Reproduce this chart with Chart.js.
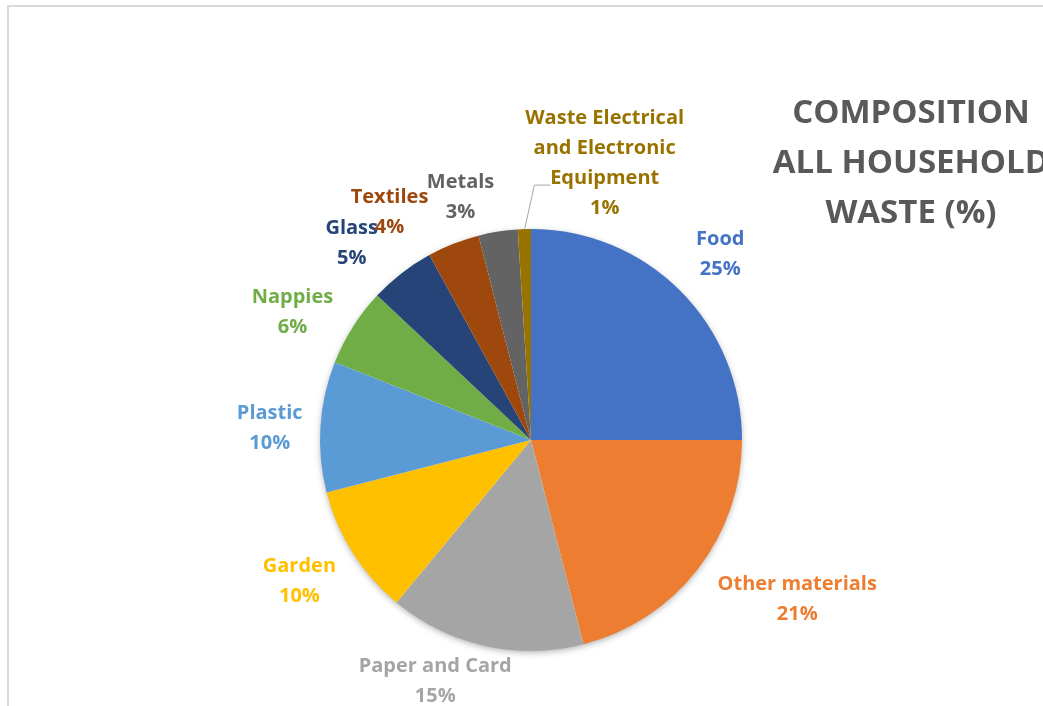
<!DOCTYPE html>
<html>
<head>
<meta charset="utf-8">
<script src="https://cdn.jsdelivr.net/npm/chart.js@4"></script>
<style>
html,body{margin:0;padding:0;background:#fff;}
canvas{display:block;}
</style>
</head>
<body>
<canvas id="c" width="1043" height="706"></canvas>
<script>
// ---- data ----
const categories = ['Food','Other materials','Paper and Card','Garden','Plastic','Nappies','Glass','Textiles','Metals','Waste Electrical and Electronic Equipment'];
const values = [25, 21, 15, 10, 10, 6, 5, 4, 3, 1];
const colors = ['#4472C4','#ED7D31','#A5A5A5','#FFC000','#5B9BD5','#70AD47','#264478','#9E480E','#636363','#997300'];
const titleLines = ['COMPOSITION','ALL HOUSEHOLD','WASTE (%)'];

// ---- label placement (style, not data) ----
const FONT = '"Open Sans", Lato, sans-serif';
const labelRadius = 1.255;
const labelNudge = [[2,2],[57,-3],[-38,-17],[-8,-1],[3,5],[-15,14],[-17,13],[-44,19],[-29,19],[82,-12]];
const labelWrap = 178;

const total = values.reduce((a,b)=>a+b,0);

function wrap(ctx, text, max){
  const words = text.split(' ');
  const lines = [];
  let cur = '';
  for (const w of words){
    const t = cur ? cur + ' ' + w : w;
    if (ctx.measureText(t).width > max && cur){ lines.push(cur); cur = w; }
    else cur = t;
  }
  if (cur) lines.push(cur);
  return lines;
}

const framePlugin = {
  id: 'frame',
  beforeDraw(chart){
    const ctx = chart.ctx;
    ctx.save();
    ctx.fillStyle = '#fff';
    ctx.fillRect(0,0,chart.width,chart.height);
    ctx.strokeStyle = '#D9D9D9';
    ctx.lineWidth = 2;
    ctx.beginPath();
    ctx.moveTo(8, chart.height);
    ctx.lineTo(8, 6);
    ctx.lineTo(chart.width, 6);
    ctx.stroke();
    ctx.restore();
  },
  beforeDatasetsDraw(chart){
    const arc = chart.getDatasetMeta(0).data[0];
    const ctx = chart.ctx;
    ctx.save();
    ctx.shadowColor = 'rgba(0,0,0,0.35)';
    ctx.shadowBlur = 7;
    ctx.shadowOffsetY = 2;
    ctx.fillStyle = '#fff';
    ctx.beginPath();
    ctx.arc(arc.x, arc.y, arc.outerRadius - 1, 0, Math.PI*2);
    ctx.fill();
    ctx.restore();
  },
  afterDatasetsDraw(chart){
    const ctx = chart.ctx;
    const meta = chart.getDatasetMeta(0);
    ctx.save();
    ctx.font = 'bold 20px ' + FONT;
    ctx.textAlign = 'center';
    ctx.textBaseline = 'middle';
    const lh = 30;
    meta.data.forEach((a, i) => {
      const mid = (a.startAngle + a.endAngle)/2;
      const r = a.outerRadius * labelRadius;
      const cx = a.x + Math.cos(mid)*r + labelNudge[i][0];
      const cy = a.y + Math.sin(mid)*r + labelNudge[i][1];
      const lines = wrap(ctx, chart.data.labels[i], labelWrap);
      lines.push(Math.round(values[i]/total*100) + '%');
      const y0 = cy - (lines.length-1)*lh/2;
      ctx.fillStyle = colors[i];
      lines.forEach((ln, k) => ctx.fillText(ln, cx, y0 + k*lh));
      if (i === values.length - 1){
        // leader line from slice edge to label
        const ex = a.x + Math.cos(mid)*a.outerRadius;
        const ey = a.y + Math.sin(mid)*a.outerRadius;
        ctx.strokeStyle = '#A6A6A6';
        ctx.lineWidth = 1;
        ctx.beginPath();
        ctx.moveTo(ex + 0.5, ey - 1);
        ctx.lineTo(ex + 10, ey - 44);
        ctx.lineTo(ex + 26, ey - 44);
        ctx.stroke();
      }
    });
    ctx.restore();
  },
  afterDraw(chart){
    const ctx = chart.ctx;
    ctx.save();
    ctx.font = 'bold 33px ' + FONT;
    ctx.fillStyle = '#595959';
    ctx.textAlign = 'center';
    ctx.textBaseline = 'middle';
    titleLines.forEach((t, k) => ctx.fillText(t, 911, 114 + k*50));
    ctx.restore();
  }
};

new Chart(document.getElementById('c'), {
  type: 'pie',
  data: {
    labels: categories,
    datasets: [{
      data: values,
      backgroundColor: colors,
      borderWidth: 0
    }]
  },
  options: {
    responsive: false,
    devicePixelRatio: 1,
    animation: false,
    layout: { padding: { left: 320, right: 301, top: 229, bottom: 55 } },
    plugins: {
      legend: { display: false },
      tooltip: { enabled: false },
      title: { display: false }
    }
  },
  plugins: [framePlugin]
});
</script>
</body>
</html>
